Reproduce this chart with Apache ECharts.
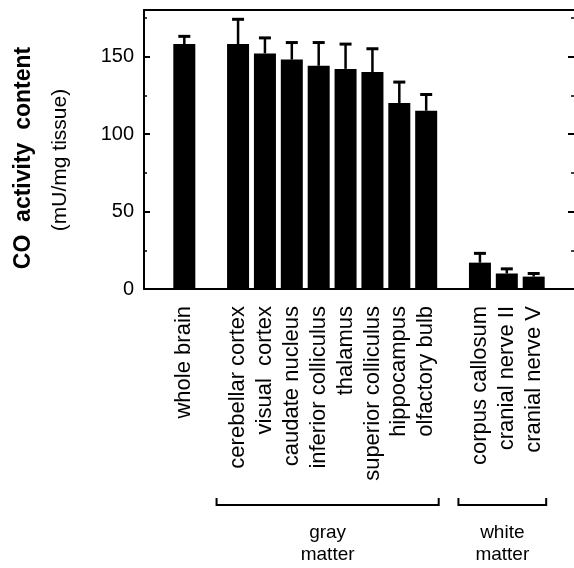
<!DOCTYPE html>
<html>
<head>
<meta charset="utf-8">
<script src="https://cdn.jsdelivr.net/npm/echarts@6/dist/echarts.min.js"></script>
<style>
  html, body { margin: 0; padding: 0; background: #fff; }
  #chart { width: 574px; height: 568px; }
</style>
</head>
<body>
<div id="chart"></div>
<script>
// Cytochrome oxidase activity by brain region (mean with upper error bar)
const regions = [
  'whole brain',
  'cerebellar cortex', 'visual  cortex', 'caudate nucleus', 'inferior colliculus',
  'thalamus', 'superior colliculus', 'hippocampus', 'olfactory bulb',
  'corpus callosum', 'cranial nerve II', 'cranial nerve V'
];
const coActivity = [158, 158, 152, 148, 144, 142, 140, 120, 115, 17, 10, 8];
const coError = [5, 16, 10, 11, 15, 16, 15, 13.5, 10.5, 6, 3, 2];
const groupSizes = [1, 8, 3];
const groupNames = ['', 'gray\nmatter', 'white\nmatter'];
const yTickLabels = [0, 50, 100, 150];

const FONT = '"Liberation Sans", Arial, Helvetica, sans-serif';

// Lay the regions out on a category axis with an empty slot around every group
const slots = [''];
const slotValues = ['-'];
const errData = [];
const groupSpans = [];
let r = 0;
groupSizes.forEach((n, g) => {
  if (g > 0) { slots.push(''); slotValues.push('-'); }
  const first = slots.length;
  for (let j = 0; j < n; j++, r++) {
    errData.push([slots.length, coActivity[r], coError[r]]);
    slots.push(regions[r]);
    slotValues.push(coActivity[r]);
  }
  groupSpans.push([first, slots.length - 1]);
});
slots.push('');
slotValues.push('-');

const chart = echarts.init(document.getElementById('chart'), null, { renderer: 'canvas' });

const frameLine = { show: true, onZero: false, lineStyle: { color: '#000', width: 2 } };

function valueAxis(position, interval, tickLen, tickWidth, showLabels, showLine) {
  return {
    type: 'value',
    position: position,
    min: 0,
    max: 180,
    interval: interval,
    axisLine: showLine ? frameLine : { show: false },
    splitLine: { show: false },
    axisTick: { show: true, inside: true, length: tickLen, lineStyle: { color: '#000', width: tickWidth } },
    axisLabel: {
      show: showLabels,
      color: '#000',
      fontFamily: FONT,
      fontSize: 20,
      margin: 10,
      formatter: v => (yTickLabels.indexOf(v) >= 0 ? String(v) : '')
    }
  };
}

const option = {
  animation: false,
  backgroundColor: '#fff',
  grid: { left: 144, right: -1, top: 10, bottom: 279, show: false },
  xAxis: [
    {
      type: 'category',
      position: 'bottom',
      data: slots,
      axisLine: frameLine,
      axisTick: { show: false },
      axisLabel: {
        interval: 0,
        rotate: 90,
        margin: 17,
        color: '#000',
        fontFamily: FONT,
        fontSize: 22
      }
    },
    {
      type: 'category',
      position: 'top',
      data: slots,
      axisLine: frameLine,
      axisTick: { show: false },
      axisLabel: { show: false }
    }
  ],
  yAxis: [
    valueAxis('left', 25, 3, 1.5, true, true),
    valueAxis('left', 50, 6, 2, false, false),
    valueAxis('right', 25, 3, 1.5, false, false),
    valueAxis('right', 50, 6, 2, false, false)
  ],
  series: [
    {
      type: 'bar',
      data: slotValues,
      barWidth: 22,
      itemStyle: { color: '#000' },
      z: 2
    },
    {
      type: 'custom',
      data: errData,
      encode: { x: 0, y: 1 },
      z: 3,
      renderItem: function (params, api) {
        const idx = api.value(0), m = api.value(1), e = api.value(2);
        const base = api.coord([idx, m]);
        const top = api.coord([idx, m + e]);
        const half = 6;
        return {
          type: 'group',
          children: [
            { type: 'line', shape: { x1: base[0], y1: base[1], x2: top[0], y2: top[1] },
              style: { stroke: '#000', lineWidth: 2.5 } },
            { type: 'line', shape: { x1: top[0] - half, y1: top[1], x2: top[0] + half, y2: top[1] },
              style: { stroke: '#000', lineWidth: 3 } }
          ]
        };
      }
    }
  ]
};

chart.setOption(option);

// Axis title and group brackets
const graphics = [
  {
    type: 'text', x: 24, y: 158, rotation: Math.PI / 2,
    style: { text: 'CO  activity  content', font: 'bold 23px ' + FONT, fill: '#000',
             textAlign: 'center', textVerticalAlign: 'middle' }
  },
  {
    type: 'text', x: 60, y: 160, rotation: Math.PI / 2,
    style: { text: '(mU/mg tissue)', font: '21px ' + FONT, fill: '#000',
             textAlign: 'center', textVerticalAlign: 'middle' }
  }
];
const px = i => chart.convertToPixel({ xAxisIndex: 0 }, i);
groupSpans.forEach((span, g) => {
  if (!groupNames[g]) return;
  const x1 = px(span[0]) - 21.5;
  const x2 = px(span[1]) + 12.5;
  graphics.push({
    type: 'polyline',
    shape: { points: [[x1, 498], [x1, 505], [x2, 505], [x2, 498]] },
    style: { stroke: '#000', lineWidth: 2, fill: null }
  });
  graphics.push({
    type: 'text', x: (x1 + x2) / 2, y: 522,
    style: { text: groupNames[g], font: '19px ' + FONT, fill: '#000', lineHeight: 22,
             textAlign: 'center', textVerticalAlign: 'top' }
  });
});
chart.setOption({ graphic: graphics });
</script>
</body>
</html>
